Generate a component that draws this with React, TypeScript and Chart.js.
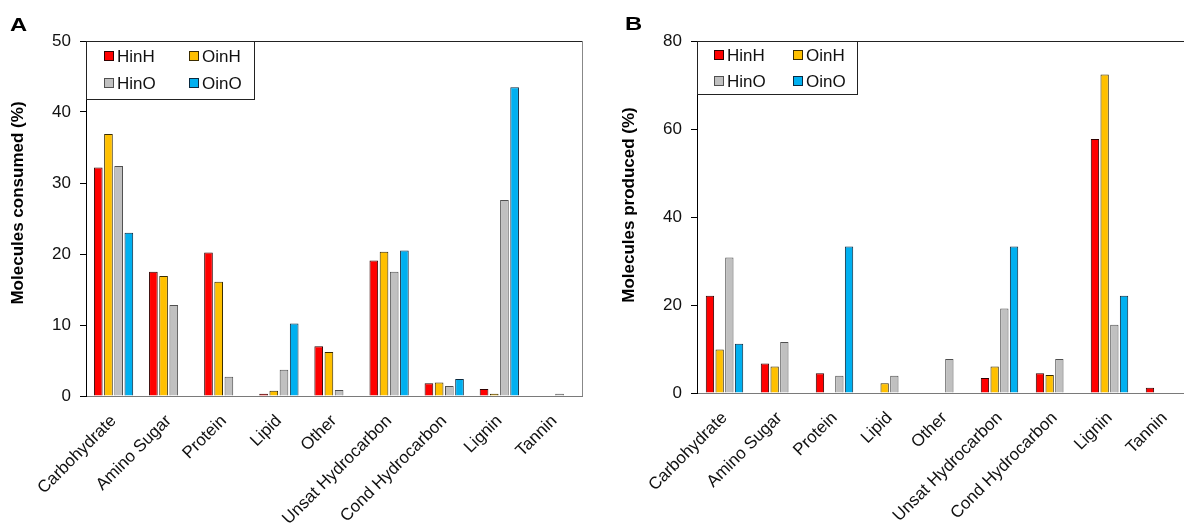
import React, { useEffect, useRef } from 'react';
import { Chart, registerables } from 'chart.js';

Chart.register(...registerables);
Chart.defaults.font.family = "'Liberation Sans', Arial, sans-serif";

const categories = ['Carbohydrate', 'Amino Sugar', 'Protein', 'Lipid', 'Other', 'Unsat Hydrocarbon', 'Cond Hydrocarbon', 'Lignin', 'Tannin'];
const seriesNames = ['HinH', 'OinH', 'HinO', 'OinO'];
const seriesColors = ['#FF0000', '#FFC000', '#C0C0C0', '#00B0F0'];
const seriesBorders = ['#300000', '#3a2c00', '#505050', '#0a2a40'];

const consumedHinH = [32.2, 17.5, 20.2, 0.3, 7.0, 19.1, 1.8, 1.0, 0];
const consumedOinH = [36.9, 16.9, 16.1, 0.75, 6.2, 20.3, 1.9, 0.3, 0];
const consumedHinO = [32.4, 12.8, 2.7, 3.7, 0.85, 17.5, 1.4, 27.6, 0.3];
const consumedOinO = [23.0, 0, 0, 10.2, 0, 20.5, 2.4, 43.5, 0];

const producedHinH = [22.1, 6.7, 4.5, 0, 0, 3.4, 4.5, 57.7, 1.2];
const producedOinH = [9.9, 6.0, 0, 2.2, 0, 6.0, 4.1, 72.4, 0];
const producedHinO = [30.8, 11.6, 3.9, 3.9, 7.7, 19.2, 7.7, 15.5, 0];
const producedOinO = [11.2, 0, 33.3, 0, 0, 33.3, 0, 22.1, 0];

const consumedTicks = [0, 10, 20, 30, 40, 50];
const producedTicks = [0, 20, 40, 60, 80];

type Deco = {
  letter: string;
  letterX: number;
  letterY: number;
  title: string;
  titleX: number;
  titleY: number;
  legendW: number;
  legendH: number;
  colX: number[];
  rowY: number[];
  textGap: number;
};

function decorPlugin(d: Deco) {
  return {
    id: 'decor',
    afterDraw(chart: any) {
      const ctx = chart.ctx as CanvasRenderingContext2D;
      const ca = chart.chartArea;
      ctx.save();
      ctx.lineWidth = 1;
      ctx.strokeStyle = '#222';
      ctx.beginPath();
      ctx.moveTo(ca.left, Math.round(ca.top) + 0.5);
      ctx.lineTo(ca.right + 1, Math.round(ca.top) + 0.5);
      ctx.stroke();
      ctx.strokeStyle = '#888';
      ctx.beginPath();
      ctx.moveTo(Math.round(ca.right) + 0.5, ca.top);
      ctx.lineTo(Math.round(ca.right) + 0.5, ca.bottom);
      ctx.stroke();

      const lx = Math.round(ca.left) + 0.5;
      const ly = Math.round(ca.top) + 0.5;
      ctx.fillStyle = '#fff';
      ctx.fillRect(lx, ly, d.legendW, d.legendH);
      ctx.strokeStyle = '#222';
      ctx.strokeRect(lx, ly, d.legendW, d.legendH);
      ctx.font = "17px 'Liberation Sans', Arial, sans-serif";
      ctx.textBaseline = 'middle';
      ctx.textAlign = 'left';
      chart.data.datasets.forEach((ds: any, i: number) => {
        const col = i % 2;
        const row = Math.floor(i / 2);
        const mx = Math.round(ca.left + d.colX[col]) + 0.5;
        const my = Math.round(ca.top + d.rowY[row] - 5) + 0.5;
        ctx.fillStyle = ds.backgroundColor;
        ctx.fillRect(mx, my, 9, 9);
        ctx.strokeStyle = ds.borderColor;
        ctx.strokeRect(mx, my, 9, 9);
        ctx.fillStyle = '#111';
        ctx.fillText(ds.label, ca.left + d.colX[col] + d.textGap, ca.top + d.rowY[row] + 1);
      });

      ctx.save();
      ctx.translate(d.letterX, d.letterY);
      ctx.scale(1.25, 1);
      ctx.font = "bold 19px 'Liberation Sans', Arial, sans-serif";
      ctx.fillStyle = '#000';
      ctx.textAlign = 'left';
      ctx.textBaseline = 'alphabetic';
      ctx.fillText(d.letter, 0, 0);
      ctx.restore();

      ctx.save();
      ctx.translate(d.titleX, d.titleY);
      ctx.rotate(-Math.PI / 2);
      ctx.font = "bold 17px 'Liberation Sans', Arial, sans-serif";
      ctx.fillStyle = '#000';
      ctx.textAlign = 'center';
      ctx.textBaseline = 'middle';
      ctx.fillText(d.title, 0, 0);
      ctx.restore();
      ctx.restore();
    },
  };
}

type Build = {
  values: number[][];
  ticks: number[];
  yWidth: number;
  xHeight: number;
  padRight: number;
  padTop: number;
  catPct: number;
  barPct: number;
  deco: Deco;
};

function buildConfig(b: Build): any {
  return {
    type: 'bar',
    data: {
      labels: categories,
      datasets: b.values.map((v, i) => ({
        label: seriesNames[i],
        data: v,
        backgroundColor: seriesColors[i],
        borderColor: seriesBorders[i],
        borderWidth: 1,
        borderSkipped: 'start',
        categoryPercentage: b.catPct,
        barPercentage: b.barPct,
      })),
    },
    options: {
      animation: false,
      responsive: false,
      maintainAspectRatio: false,
      layout: { padding: { left: 0, right: b.padRight, top: b.padTop, bottom: 0 } },
      plugins: { legend: { display: false }, tooltip: { enabled: false }, title: { display: false } },
      scales: {
        x: {
          offset: true,
          grid: { display: false, drawTicks: false },
          border: { display: true, color: '#7a7a7a', width: 1 },
          ticks: {
            autoSkip: false,
            minRotation: 45,
            maxRotation: 45,
            padding: 15,
            color: '#111',
            font: { size: 17 },
          },
          afterFit: (s: any) => {
            s.height = b.xHeight;
          },
        },
        y: {
          min: b.ticks[0],
          max: b.ticks[b.ticks.length - 1],
          grid: { display: true, drawOnChartArea: false, drawTicks: true, tickLength: 6, color: '#000' },
          border: { display: true, color: '#000', width: 1 },
          ticks: { padding: 9, color: '#111', font: { size: 17 } },
          afterBuildTicks: (s: any) => {
            s.ticks = b.ticks.map((v) => ({ value: v }));
          },
          afterFit: (s: any) => {
            s.width = b.yWidth;
          },
        },
      },
    },
    plugins: [decorPlugin(b.deco)],
  };
}

export default function App() {
  const refA = useRef<HTMLCanvasElement>(null);
  const refB = useRef<HTMLCanvasElement>(null);

  useEffect(() => {
    const a = new Chart(
      refA.current!,
      buildConfig({
        values: [consumedHinH, consumedOinH, consumedHinO, consumedOinO],
        ticks: consumedTicks,
        yWidth: 86,
        xHeight: 129,
        padRight: 10,
        padTop: 41,
        catPct: 0.74,
        barPct: 0.85,
        deco: {
          letter: 'A',
          letterX: 10,
          letterY: 31,
          title: 'Molecules consumed (%)',
          titleX: 18,
          titleY: 203,
          legendW: 168,
          legendH: 58,
          colX: [18, 103],
          rowY: [15, 42],
          textGap: 13,
        },
      })
    );
    const b = new Chart(
      refB.current!,
      buildConfig({
        values: [producedHinH, producedOinH, producedHinO, producedOinO],
        ticks: producedTicks,
        yWidth: 105,
        xHeight: 132,
        padRight: 10,
        padTop: 41,
        catPct: 0.705,
        barPct: 0.86,
        deco: {
          letter: 'B',
          letterX: 33,
          letterY: 30,
          title: 'Molecules produced (%)',
          titleX: 37,
          titleY: 205,
          legendW: 160,
          legendH: 53,
          colX: [17, 96],
          rowY: [14, 40],
          textGap: 13,
        },
      })
    );
    return () => {
      a.destroy();
      b.destroy();
    };
  }, []);

  return (
    <div style={{ position: 'fixed', left: 0, top: 0, width: 1184, height: 525, overflow: 'hidden', background: '#fff' }}>
      <canvas ref={refA} width={592} height={525} style={{ position: 'absolute', left: 0, top: 0 }} />
      <canvas ref={refB} width={610} height={525} style={{ position: 'absolute', left: 592, top: 0 }} />
    </div>
  );
}
